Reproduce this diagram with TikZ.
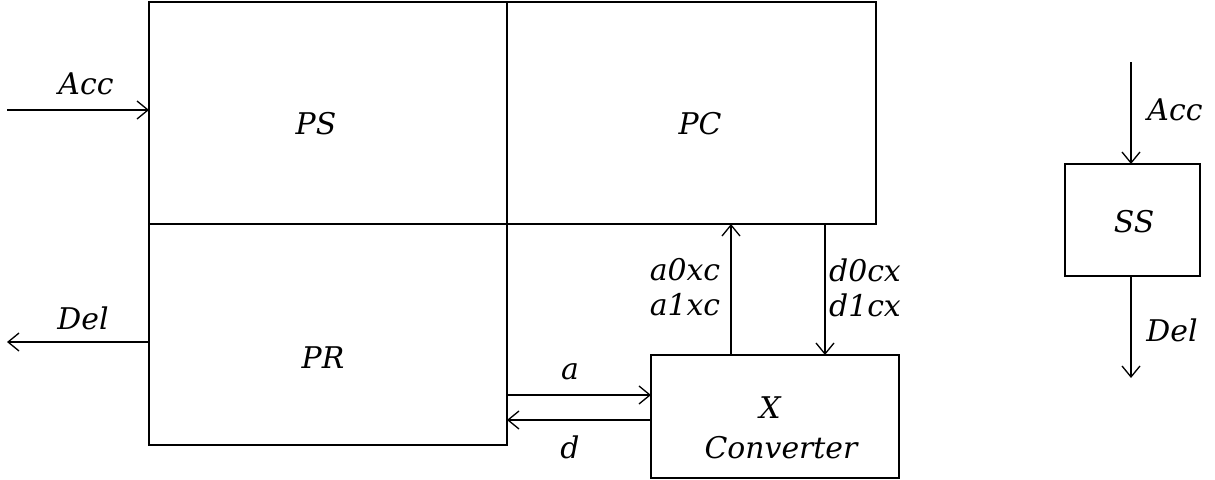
\documentclass[tikz,border=0pt]{standalone}
\usepackage{fontspec}
\setmainfont{DejaVu Serif}
\usetikzlibrary{arrows.meta}
\tikzset{
  box/.style={draw, line width=0.75pt, outer sep=0pt, inner sep=0pt},
  lbl/.style={font=\fontsize{17}{20}\selectfont\itshape, inner sep=0pt},
  arr/.style={line width=0.75pt, -{Straight Barb[length=0.22cm,width=0.36cm,line width=0.75pt]}},
}
\begin{document}
\begin{tikzpicture}[x=0.02cm,y=-0.02cm]
\useasboundingbox (0,0) rectangle (1215,480);
% boxes
\node[box, minimum width=7.16cm, minimum height=4.44cm] (ps) at (328,113) {};
\node[box, minimum width=7.38cm, minimum height=4.44cm] (pc) at (691.5,113) {};
\node[box, minimum width=7.16cm, minimum height=4.42cm] (pr) at (328,334.5) {};
\node[box, minimum width=4.96cm, minimum height=2.46cm] (xc) at (775,416.5) {};
\node[box, minimum width=2.70cm, minimum height=2.24cm] (ss) at (1132.5,220) {};
% box texts
\node[lbl] (pst) at (316,124) {PS};
\node[lbl] (pct) at (700,124) {PC};
\node[lbl] (prt) at (323,358) {PR};
\node[lbl] (xt) at (770,408) {X};
\node[lbl] (ct) at (781,448) {Converter};
\node[lbl] (sst) at (1134,222) {SS};
% free ends
\coordinate (accin) at (7,110);
\coordinate (delout) at (7,342);
\coordinate (upx) at (731,0);
\coordinate (dnx) at (825,0);
\coordinate (ay) at (0,395);
\coordinate (dy) at (0,420);
\coordinate (ssin) at (1131,62);
\coordinate (ssout) at (1131,378);
% connectors
\draw[arr] (accin) -- (accin -| ps.west);
\draw[arr] (delout -| pr.west) -- (delout);
\draw[arr] (xc.north -| upx) -- (pc.south -| upx);
\draw[arr] (pc.south -| dnx) -- (xc.north -| dnx);
\draw[arr] (pr.east |- ay) -- (xc.west |- ay);
\draw[arr] (xc.west |- dy) -- (pr.east |- dy);
\draw[arr] (ssin) -- (ss.north -| ssin);
\draw[arr] (ss.south -| ssout) -- (ssout);
% connector labels
\node[lbl] (accl) at (86,84) {Acc};
\node[lbl] (dell) at (83,318) {Del};
\node[lbl] (a0) at (685,270) {a0xc};
\node[lbl] (a1) at (685,305) {a1xc};
\node[lbl] (d0) at (865,270) {d0cx};
\node[lbl] (d1) at (865,305) {d1cx};
\node[lbl] (al) at (570,372) {a};
\node[lbl] (dl) at (570,447) {d};
\node[lbl] (ssacc) at (1175,110) {Acc};
\node[lbl] (ssdel) at (1172,330) {Del};
\end{tikzpicture}
\end{document}
